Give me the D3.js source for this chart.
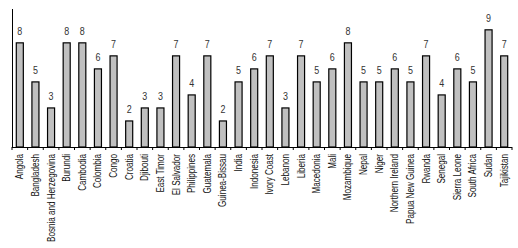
<!DOCTYPE html>
<html><head><meta charset="utf-8">
<script src="https://cdn.jsdelivr.net/npm/d3@7"></script>
<style>body{margin:0;background:#fff}</style>
</head><body>
<svg id="c" width="518" height="248"></svg>
<script>
const categories = ["Angola","Bangladesh","Bosnia and Herzegovina","Burundi","Cambodia","Colombia","Congo","Croatia","Djibouti","East Timor","El Salvador","Philippines","Guatemala","Guinea-Bissau","India","Indonesia","Ivory Coast","Lebanon","Liberia","Macedonia","Mali","Mozambique","Nepal","Niger","Northern Ireland","Papua New Guinea","Rwanda","Senegal","Sierra Leone","South Africa","Sudan","Tajikistan"];
const values = [8,5,3,8,8,6,7,2,3,3,7,4,7,2,5,6,7,3,7,5,6,8,5,5,6,5,7,4,6,5,9,7];

const svg = d3.select("#c");
const font = "'Liberation Sans',Arial,sans-serif";
const x = d3.scaleBand().domain(categories).range([12, 512]).paddingInner(0.55).paddingOuter(0.275);
const y = d3.scaleLinear().domain([0, 10.6]).range([147, 9]);

// bars
svg.selectAll("rect.bar").data(categories).join("rect")
  .attr("x", d => x(d)).attr("width", x.bandwidth())
  .attr("y", (d,i) => y(values[i])).attr("height", (d,i) => y(0) - y(values[i]))
  .attr("fill", "#c0c0c0").attr("stroke", "#000").attr("stroke-width", 1.2);

// value labels
svg.selectAll("text.val").data(categories).join("text")
  .attr("transform", (d,i) => `translate(${x(d) + x.bandwidth()/2},${y(values[i]) - 8}) scale(0.85,1)`)
  .attr("text-anchor", "middle").attr("font-family", font).attr("font-size", 10.5)
  .attr("fill", "#333").text((d,i) => values[i]);

// y axis line
svg.append("line").attr("x1", 12.5).attr("x2", 12.5).attr("y1", y.range()[1]).attr("y2", y(0))
  .attr("stroke", "#000");

// x axis
const step = x.step();
const xa = svg.append("g").attr("transform", `translate(0,${y(0)})`)
  .call(d3.axisBottom(x).tickSize(0).tickPadding(4));
xa.select(".domain").attr("stroke", "#000").attr("d", "M12,0.5H512");
const labels = xa.selectAll(".tick text")
  .attr("font-family", font).attr("font-size", 10).attr("fill", "#111")
  .attr("text-anchor", "end").attr("x", 0).attr("y", 0).attr("dy", "0.35em");
// condense labels so the longest matches the reference length
let maxLen = 0;
labels.each(function(){ maxLen = Math.max(maxLen, this.getComputedTextLength()); });
const sx = Math.min(1, 88 / maxLen);
labels.attr("transform", `rotate(-90) translate(-7,0) scale(${sx},1)`);
// boundary ticks
const bounds = d3.range(categories.length + 1).map(i => 12 + i * step);
xa.selectAll("line.bt").data(bounds).join("line")
  .attr("x1", d => d).attr("x2", d => d).attr("y1", 0).attr("y2", 3)
  .attr("stroke", "#000");
</script>
</body></html>
